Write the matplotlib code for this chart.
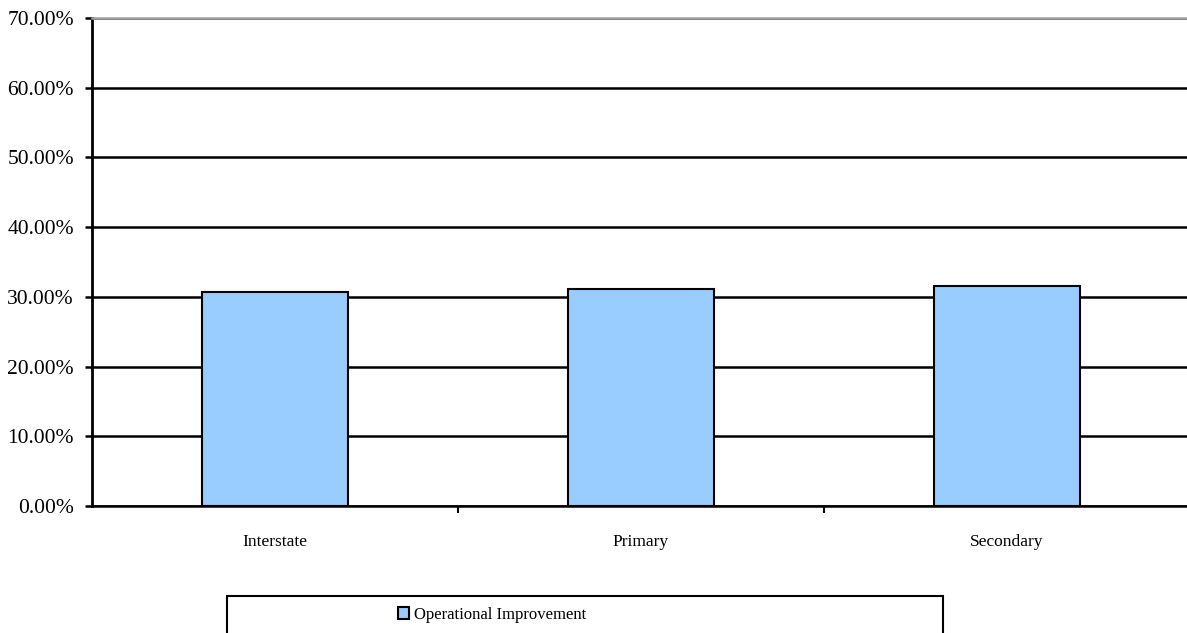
# operational improvement by road class
import matplotlib.pyplot as plt
from matplotlib.patches import Rectangle, Patch
from matplotlib.ticker import FuncFormatter

categories = ['Interstate', 'Primary', 'Secondary']
improvement = [30.7, 31.1, 31.6]   # percent
series_name = 'Operational Improvement'
yticks = [0, 10, 20, 30, 40, 50, 60, 70]

plt.rcParams['font.family'] = ['Liberation Serif', 'DejaVu Serif']

fig = plt.figure(figsize=(11.87, 6.33), dpi=100)
ax = fig.add_axes([92/1187, 127/633, 1098/1187, 488/633])

x = list(range(len(categories)))
ax.bar(x, improvement, width=0.4, color='#99CCFF', edgecolor='black',
       linewidth=1.5, zorder=3)

ax.set_xlim(-0.5, 2.5)
ax.set_ylim(0, 70)
ax.set_yticks(yticks)
ax.yaxis.set_major_formatter(FuncFormatter(lambda v, p: '%.2f%%' % v))
ax.grid(axis='y', color='black', linewidth=1.8, zorder=1)
ax.tick_params(axis='y', length=5, width=1.8, labelsize=15.5, pad=8)

# category boundaries get the tick marks, centres get the labels
ax.set_xticks([0.5, 1.5, 2.5])
ax.set_xticklabels([])
ax.set_xticks(x, minor=True)
ax.set_xticklabels(categories, minor=True, fontsize=12.5)
ax.tick_params(axis='x', which='major', length=5, width=1.5)
ax.tick_params(axis='x', which='minor', length=0, pad=20)

ax.spines['left'].set_linewidth(2)
ax.spines['bottom'].set_linewidth(1.8)
ax.spines['top'].set_color('#A0A0A0')
ax.spines['top'].set_linewidth(1.8)
ax.spines['right'].set_visible(False)

# legend box, cut off by the bottom edge like in the original
fig.patches.append(Rectangle((227/1187, -0.05), (943-227)/1187, 0.05 + 37/633,
                             transform=fig.transFigure, fill=False,
                             edgecolor='black', linewidth=1.5))
fig.legend(handles=[Patch(facecolor='#99CCFF', edgecolor='black', linewidth=1.5,
                          label=series_name)],
           loc='center', bbox_to_anchor=(492/1187, 1 - 615/633), frameon=False,
           fontsize=12, handlelength=0.7, handleheight=0.7, handletextpad=0.3)

fig.savefig('out.png', dpi=100)
